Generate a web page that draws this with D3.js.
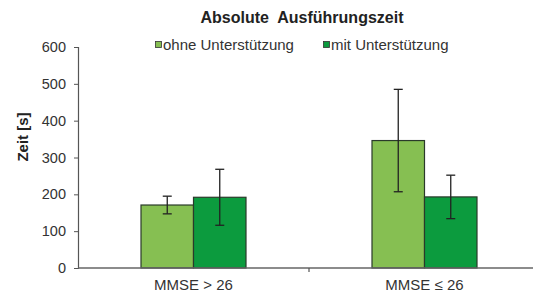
<!DOCTYPE html>
<html><head><meta charset="utf-8">
<script src="https://cdn.jsdelivr.net/npm/d3@7"></script>
<style>body{margin:0;background:#fff}svg{display:block;font-family:"Liberation Sans",Arial,sans-serif}</style>
</head><body><svg width="533" height="293"></svg>
<script>
const categories = ["MMSE > 26", "MMSE ≤ 26"];
const series = ["ohne Unterstützung", "mit Unterstützung"];
const means = [[171, 192], [346, 193]];
const errors = [[24, 76], [139, 59]];
const yTicks = [0, 100, 200, 300, 400, 500, 600];
const colors = ["#86bf52", "#0c9b3e"];

(function () {
const svg = d3.select("svg");
const mLeft = 78, mRight = 540, mTop = 47, mBottom = 268;
const y = d3.scaleLinear().domain([0, 600]).range([mBottom, mTop]);
const x0 = d3.scaleBand().domain(categories).range([mLeft, mRight]).padding(0);
const x1 = d3.scaleBand().domain(series).range([0, x0.bandwidth()]).paddingInner(0).paddingOuter(1.2);

// title
svg.append("text").attr("x", 302).attr("y", 23).attr("text-anchor", "middle")
  .attr("font-weight", "bold").attr("font-size", 16).attr("fill", "#222")
  .attr("xml:space", "preserve").text("Absolute  Ausführungszeit");

// legend
const legX = [155, 323];
series.forEach((s, i) => {
  const g = svg.append("g").attr("transform", `translate(${legX[i]},45)`);
  g.append("rect").attr("x", 0.5).attr("y", -3.5).attr("width", 6).attr("height", 6)
    .attr("fill", colors[i]).attr("stroke", "#333").attr("stroke-width", 0.8);
  g.append("text").attr("x", 8).attr("y", 5).attr("font-size", 15).attr("fill", "#333").text(s);
});

// y axis
const yAxis = svg.append("g").attr("transform", `translate(${mLeft},0)`)
  .call(d3.axisLeft(y).tickValues(yTicks).tickSize(4).tickPadding(8));
yAxis.select(".domain").attr("stroke", "#555").attr("stroke-width", 1.2);
yAxis.selectAll(".tick line").attr("stroke", "#555");
yAxis.selectAll("text").attr("font-size", 14.5).attr("fill", "#333").attr("font-family", "Liberation Sans, Arial, sans-serif");

// y label
svg.append("text").attr("transform", "translate(28,137) rotate(-90)").attr("text-anchor", "middle")
  .attr("font-weight", "bold").attr("font-size", 15).attr("fill", "#222").text("Zeit [s]");

// bars
categories.forEach((c, ci) => {
  series.forEach((s, si) => {
    const bx = x0(c) + x1(s);
    svg.append("rect").attr("x", bx).attr("y", y(means[ci][si]))
      .attr("width", x1.bandwidth()).attr("height", y(0) - y(means[ci][si]))
      .attr("fill", colors[si]).attr("stroke", "#2a3a2a").attr("stroke-width", 1.2);
  });
});

// x axis
svg.append("line").attr("x1", mLeft).attr("x2", 533).attr("y1", y(0)).attr("y2", y(0))
  .attr("stroke", "#666").attr("stroke-width", 1.5);
categories.slice(1).forEach(c => {
  svg.append("line").attr("x1", x0(c)).attr("x2", x0(c)).attr("y1", y(0)).attr("y2", y(0) + 4)
    .attr("stroke", "#555").attr("stroke-width", 1.2);
});
categories.forEach(c => {
  svg.append("text").attr("x", x0(c) + x0.bandwidth() / 2).attr("y", 290).attr("text-anchor", "middle")
    .attr("font-size", 15).attr("fill", "#333").text(c);
});

// error bars
categories.forEach((c, ci) => {
  series.forEach((s, si) => {
    const cx = x0(c) + x1(s) + x1.bandwidth() / 2;
    const hi = y(means[ci][si] + errors[ci][si]), lo = y(means[ci][si] - errors[ci][si]);
    const g = svg.append("g").attr("stroke", "#222").attr("stroke-width", 1.3);
    g.append("line").attr("x1", cx).attr("x2", cx).attr("y1", hi).attr("y2", lo);
    g.append("line").attr("x1", cx - 4.5).attr("x2", cx + 4.5).attr("y1", hi).attr("y2", hi);
    g.append("line").attr("x1", cx - 4.5).attr("x2", cx + 4.5).attr("y1", lo).attr("y2", lo);
  });
});
})();
</script></body></html>
